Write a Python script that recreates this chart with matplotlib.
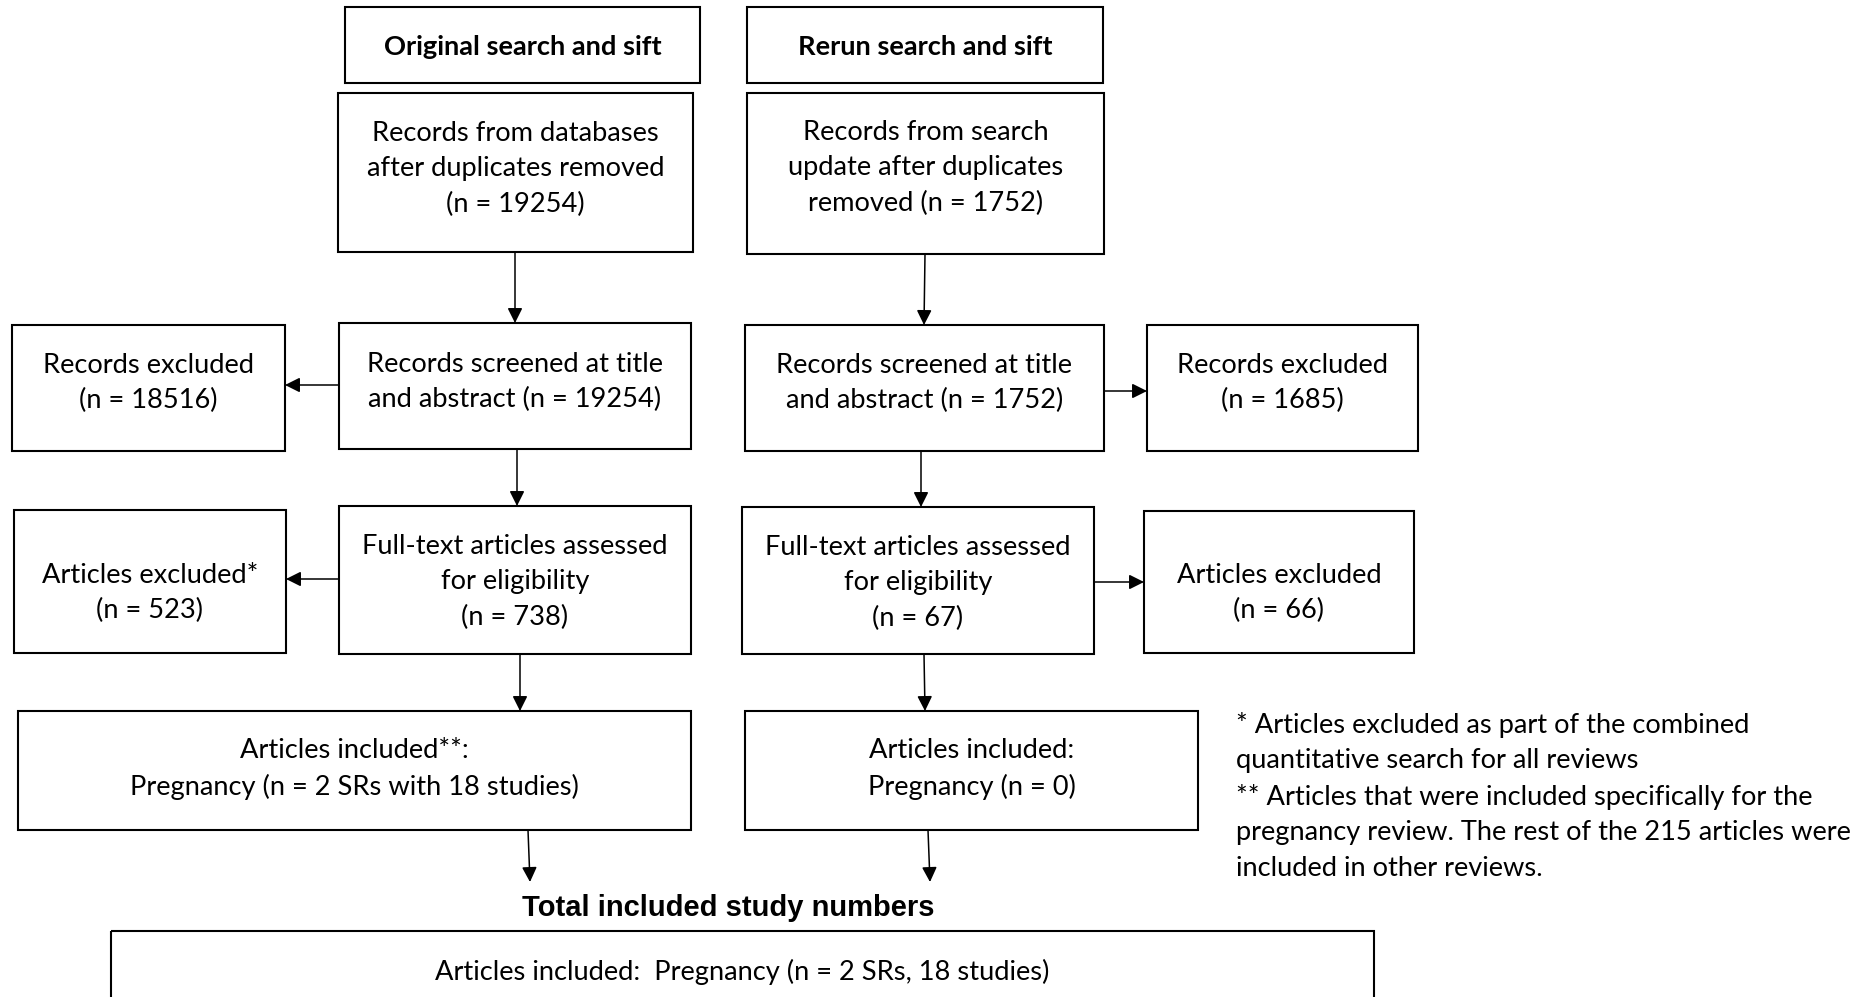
import matplotlib.pyplot as plt
from matplotlib.patches import Rectangle

# counts from the flow diagram
orig_n = [19254, 19254, 738]          # records, screened, full text
orig_excl_n = [18516, 523]            # excluded at screening / full text
rerun_n = [1752, 1752, 67]
rerun_excl_n = [1685, 66]
orig_included = [2, 18]               # SRs, studies
rerun_included = 0
total_included = [2, 18]
other_articles = 215

headers = ["Original search and sift", "Rerun search and sift"]
footnotes = [
    "* Articles excluded as part of the combined",
    "quantitative search for all reviews",
    "** Articles that were included specifically for the",
    f"pregnancy review. The rest of the {other_articles} articles were",
    "included in other reviews.",
]

W, H = 1859, 997
FONT = "Lato"
FS = 19.6
LW_BOX = 1.5
LW_ARR = 1.1

fig = plt.figure(figsize=(W / 100, H / 100), dpi=100)
ax = fig.add_axes([0, 0, 1, 1])
ax.set_xlim(0, W)
ax.set_ylim(H, 0)
ax.axis("off")


def box(x0, y0, x1, y1, text, ty, weight="normal", fs=FS):
    ax.add_patch(Rectangle((x0, y0), x1 - x0, y1 - y0, fill=False,
                           edgecolor="black", linewidth=LW_BOX))
    if text:
        ax.text((x0 + x1) / 2, ty, text, ha="center", va="center",
                fontsize=fs, family=FONT, weight=weight, linespacing=1.51)


def arrow(x0, y0, x1, y1):
    ax.annotate("", xy=(x1, y1), xytext=(x0, y0),
                arrowprops=dict(arrowstyle="-|>,head_length=0.6,head_width=0.3",
                                mutation_scale=15, color="black",
                                linewidth=LW_ARR, shrinkA=0, shrinkB=0))


# headers
box(345, 7, 700, 83, headers[0], 47, weight="bold")
box(747, 7, 1103, 83, headers[1], 47, weight="bold")

# original search column
box(338, 93, 693, 252,
    f"Records from databases\nafter duplicates removed\n(n = {orig_n[0]})", 169)
box(339, 323, 691, 449,
    f"Records screened at title\nand abstract (n = {orig_n[1]})", 382)
box(12, 325, 285, 451, f"Records excluded\n(n = {orig_excl_n[0]})", 383)
box(339, 506, 691, 654,
    f"Full-text articles assessed\nfor eligibility\n(n = {orig_n[2]})", 582)
box(14, 510, 286, 653, f"Articles excluded*\n(n = {orig_excl_n[1]})", 593)
box(18, 711, 691, 830,
    f"Articles included**:\nPregnancy (n = {orig_included[0]} SRs with {orig_included[1]} studies)", 769)

arrow(515, 252, 515, 323)
arrow(339, 385, 285, 385)
arrow(517, 449, 517, 506)
arrow(339, 579, 286, 579)
arrow(520, 654, 520, 711)
arrow(528, 830, 530, 882)

# rerun column
box(747, 93, 1104, 254,
    f"Records from search\nupdate after duplicates\nremoved (n = {rerun_n[0]})", 168)
box(745, 325, 1104, 451,
    f"Records screened at title\nand abstract (n = {rerun_n[1]})", 383)
box(1147, 325, 1418, 451, f"Records excluded\n(n = {rerun_excl_n[0]})", 383)
box(742, 507, 1094, 654,
    f"Full-text articles assessed\nfor eligibility\n(n = {rerun_n[2]})", 583)
box(1144, 511, 1414, 653, f"Articles excluded\n(n = {rerun_excl_n[1]})", 593)
box(745, 711, 1198, 830,
    f"Articles included:\nPregnancy (n = {rerun_included})", 769)

arrow(925, 254, 924, 325)
arrow(1104, 391, 1147, 391)
arrow(921, 451, 921, 507)
arrow(1094, 582, 1144, 582)
arrow(924, 654, 925, 711)
arrow(928, 830, 930, 882)

# total
ax.text(728, 908, "Total included study numbers", ha="center", va="center",
        fontsize=21, family="Liberation Sans", weight="bold")
box(111, 931, 1374, 1030, "", 0)
ax.text(742, 972,
        f"Articles included:  Pregnancy (n = {total_included[0]} SRs, {total_included[1]} studies)",
        ha="center", va="center", fontsize=FS, family=FONT)

# footnotes
for i, line in enumerate(footnotes):
    ax.text(1236, 725 + i * 35.8, line, ha="left", va="center",
            fontsize=FS, family=FONT)

fig.savefig("out.png", dpi=100, facecolor="white")
